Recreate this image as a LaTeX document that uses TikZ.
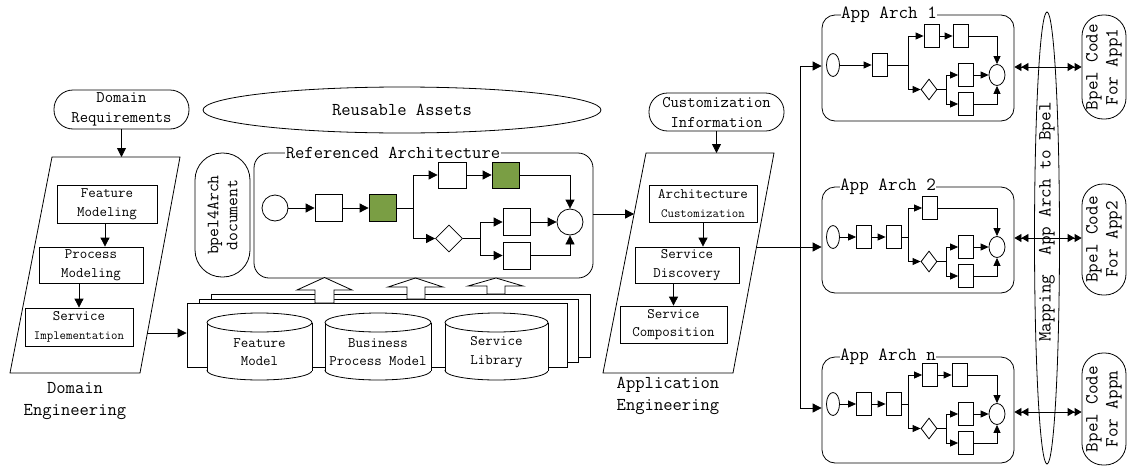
\documentclass[tikz,border=0pt]{standalone}
\usepackage{fontspec}
\usetikzlibrary{arrows.meta,shapes.geometric}
\definecolor{grn}{RGB}{122,158,68}
\newcommand\fsBig{\ttfamily\fontsize{18.1}{22}\selectfont}
\newcommand\fsTitle{\ttfamily\fontsize{18.6}{20}\selectfont}
\newcommand\fsPill{\ttfamily\fontsize{16.2}{20}\selectfont}
\newcommand\fsMid{\ttfamily\fontsize{14.5}{18.5}\selectfont}
\newcommand\fsSmall{\ttfamily\fontsize{12.5}{18.5}\selectfont}
\newcommand\fsDoc{\ttfamily\fontsize{17.2}{19}\selectfont}
\newcommand\mycyl[4]{%
  \draw[fill=white] (#1,#4) ellipse [x radius=#2pt, y radius=9.5pt];
  \fill[white] ({#1-#2},#3) rectangle ({#1+#2},#4);
  \draw ({#1-#2},#3) -- ({#1-#2},#4) ({#1+#2},#3) -- ({#1+#2},#4);
  \draw[fill=white] (#1,#3) ellipse [x radius=#2pt, y radius=9.5pt];}
\begin{document}
\begin{tikzpicture}[x=1pt,y=-1pt,line width=0.8pt,
  arr/.style={-{Triangle[length=9pt,width=9pt]}},
  sarr/.style={-{Triangle[length=8pt,width=7pt]}},
  dbl/.style={{Triangle[length=7pt,width=8pt]Triangle[length=7pt,width=8pt]}-{Triangle[length=7pt,width=8pt]Triangle[length=7pt,width=8pt]}},
  pill/.style={draw,fill=white,rectangle,inner sep=1pt,align=center},
  pbox/.style={draw,fill=white,rectangle,inner sep=0pt,align=center,font=\fsMid},
  sq/.style={draw,fill=white,rectangle,inner sep=0pt,minimum width=27pt,minimum height=27pt},
  gsq/.style={sq,fill=grn},
  rc/.style={draw,fill=white,circle,inner sep=0pt,minimum size=26pt},
  rdia/.style={draw,fill=white,diamond,inner sep=0pt,minimum width=27pt,minimum height=27pt},
  abox/.style={draw,rectangle,rounded corners=13pt,inner sep=0pt,minimum width=192pt,minimum height=106pt},
  ttl/.style={fill=white,inner sep=0.5pt,font=\fsTitle},
  sb/.style={draw,fill=white,rectangle,inner sep=0pt,minimum width=15pt,minimum height=23pt},
  st/.style={draw,fill=white,ellipse,inner sep=0pt,minimum width=13pt,minimum height=23pt},
  se/.style={draw,fill=white,ellipse,inner sep=0pt,minimum width=16pt,minimum height=21pt},
  sd/.style={draw,fill=white,diamond,inner sep=0pt,minimum width=16pt,minimum height=21pt},
  stk/.style={draw,fill=white,rectangle,inner sep=0pt,minimum width=379pt,minimum height=63pt},
  lbl/.style={font=\fsBig,align=center,inner sep=0pt},
  cyltext/.style={font=\fsMid,align=center,inner sep=0pt}
]
\fill[white] (0,0) rectangle (1127,466);
\useasboundingbox (0,0) rectangle (1127,466);

% ---------- Domain engineering ----------
\node[pill,rounded corners=19pt,minimum width=135pt,minimum height=39pt,font=\fsPill] (DR) at (121.5,109.5) {Domain\\Requirements};
\coordinate (dp1) at (52,157);
\coordinate (dp2) at (180,157);
\coordinate (dp3) at (140,373);
\coordinate (dp4) at (10,373);
\draw (dp1) -- (dp2) -- (dp3) -- (dp4) -- cycle;
\draw[arr] (DR) -- (DR |- dp1);
\node[pbox,minimum width=100pt,minimum height=38pt] (FM) at (107,204) {Feature\\Modeling};
\node[pbox,minimum width=104pt,minimum height=36pt] (PM) at (91,265) {Process\\Modeling};
\node[pbox,minimum width=108pt,minimum height=38pt] (SI) at (79,327) {Service\\{\fsSmall Implementation}};
\draw[arr] ([xshift=-2pt]FM.south) -- ([xshift=-2pt]FM.south |- PM.north);
\draw[arr] (PM.south -| SI.north) -- (SI.north);
\node[lbl] (DE) at (75,401) {Domain\\Engineering};

% ---------- Reusable assets ----------
\node[draw,ellipse,minimum width=398pt,minimum height=46pt,inner sep=0pt,font=\fsBig] (RAs) at (402,110) {Reusable Assets};
\node[pill,rounded corners=27pt,rotate=90,minimum width=124pt,minimum height=55pt,font=\fsDoc] (B4) at (222.5,215) {bpel4Arch\\document};

\node[draw,rectangle,rounded corners=15pt,minimum width=339pt,minimum height=125pt,inner sep=0pt] (RA) at (423.5,215.5) {};
\node[ttl,font=\fsBig] (RAT) at (393,153) {Referenced Architecture};
\node[rc] (r0) at (275,208) {};
\node[sq] (r1) at (328.5,208) {};
\node[gsq] (r2) at (382.5,208) {};
\coordinate (rj1) at (413,208);
\node[sq,minimum width=28pt,minimum height=26pt] (r3) at (452,175) {};
\node[gsq,minimum height=26pt] (r4) at (505.5,175) {};
\node[rdia] (rd) at (449,238.5) {};
\coordinate (rj2) at (480,238.5);
\node[sq] (r5) at (516.5,222) {};
\node[sq] (r6) at (516.5,255.5) {};
\node[rc] (re) at (570,222) {};
\draw[arr] (r0) -- (r1);
\draw[arr] (r1) -- (r2);
\draw (r2) -- (rj1);
\draw[arr] (rj1) |- (r3);
\draw[arr] (r3) -- (r4);
\draw[arr] (r4) -| (re);
\draw[arr] (rj1) |- (rd);
\draw (rd) -- (rj2);
\draw[arr] (rj2) |- (r5);
\draw[arr] (rj2) |- (r6);
\draw[arr] (r5) -- (re);
\draw[arr] (r6) -| (re);

% ---------- repository stack ----------
\node[stk] (K3) at (400.5,325.5) {};
\draw[fill=white] (487,294) -- (487,286) -- (468,286) -- (496,278) -- (523,286) -- (505,286) -- (505,294) -- cycle;
\node[stk] (K2) at (388.5,330.5) {};
\draw[fill=white] (407,299) -- (407,287) -- (388,287) -- (415.5,278) -- (443,287) -- (425,287) -- (425,299) -- cycle;
\node[stk,minimum width=380pt,minimum height=64pt] (K1) at (377,335) {};
\draw[fill=white] (315,303) -- (315,290) -- (297,290) -- (324.5,277.5) -- (352,290) -- (334,290) -- (334,303) -- cycle;
\mycyl{259.5}{52.5}{322.5}{370.5}
\mycyl{378}{53}{322.5}{370.5}
\mycyl{496.5}{51.5}{322.5}{370.5}
\node[cyltext] (CF) at (259.5,352) {Feature\\Model};
\node[cyltext] (CB) at (378,352) {Business\\Process Model};
\node[cyltext] (CS) at (496.5,352) {Service\\Library};
\coordinate (dpo) at (147.4,333);
\draw[arr] (dpo) -- (dpo -| K1.west);

% ---------- Application engineering ----------
\node[pill,rounded corners=18.5pt,minimum width=135pt,minimum height=38pt,font=\fsPill] (CI) at (716.5,112) {Customization\\Information};
\coordinate (ap1) at (646,153);
\coordinate (ap2) at (774,153);
\coordinate (ap3) at (733,373);
\coordinate (ap4) at (603,373);
\draw (ap1) -- (ap2) -- (ap3) -- (ap4) -- cycle;
\draw[arr] (CI) -- (CI |- ap1);
\node[pbox,minimum width=108pt,minimum height=37pt] (AC) at (703,203.5) {Architecture\\{\fsSmall Customization}};
\node[pbox,minimum width=104pt,minimum height=36pt] (SD) at (687,265) {Service\\Discovery};
\node[pbox,minimum width=107pt,minimum height=37pt] (SC) at (673.5,324.5) {Service\\Composition};
\draw[arr] (AC) -- (AC |- SD.north);
\draw[arr] (SD.south -| SC.north) -- (SC.north);
\node[lbl] (AE) at (668,396) {Application\\Engineering};
\coordinate (api) at (634.1,214);
\draw[arr] (api -| RA.east) -- (api);

% ---------- App Arch 1 ----------
\begin{scope}[shift={(822,15)}]
\node[abox] (A1) at (96,53) {};
\node[ttl] (T1) at (67,0) {App Arch 1};
\node[st] (s1) at (11,50) {};
\node[sb] (a1) at (57.5,50) {};
\coordinate (j11) at (86,50);
\node[sb] (u11) at (109.5,21) {};
\node[sb] (u12) at (138.5,21) {};
\node[se] (e1) at (175,60) {};
\node[sd] (d1) at (107,74.5) {};
\coordinate (j12) at (124,74.5);
\node[sb] (l11) at (144,60) {};
\node[sb] (l12) at (144,89) {};
\end{scope}
\draw[sarr] (s1) -- (a1);
\draw (a1) -- (j11);
\draw[sarr] (j11) |- (u11);
\draw[sarr] (u11) -- (u12);
\draw[sarr] (u12) -| (e1);
\draw[sarr] (j11) |- (d1);
\draw (d1) -- (j12);
\draw[sarr] (j12) |- (l11);
\draw[sarr] (j12) |- (l12);
\draw[sarr] (l11) -- (e1);
\draw[sarr] (l12) -| (e1);

% ---------- App Arch 2 ----------
\begin{scope}[shift={(822,187)}]
\node[abox] (A2) at (96,53) {};
\node[ttl] (T2) at (66,0) {App Arch 2};
\node[st] (s2) at (11,50) {};
\node[sb] (a21) at (42,50) {};
\node[sb] (a22) at (71.5,50) {};
\coordinate (j21) at (86,50);
\node[sb] (u21) at (108,21) {};
\node[se] (e2) at (175,60) {};
\node[sd] (d2) at (107,74.5) {};
\coordinate (j22) at (124,74.5);
\node[sb] (l21) at (144,60) {};
\node[sb] (l22) at (144,89) {};
\end{scope}
\draw[sarr] (s2) -- (a21);
\draw[sarr] (a21) -- (a22);
\draw (a22) -- (j21);
\draw[sarr] (j21) |- (u21);
\draw[sarr] (u21) -| (e2);
\draw[sarr] (j21) |- (d2);
\draw (d2) -- (j22);
\draw[sarr] (j22) |- (l21);
\draw[sarr] (j22) |- (l22);
\draw[sarr] (l21) -- (e2);
\draw[sarr] (l22) -| (e2);

% ---------- App Arch n ----------
\begin{scope}[shift={(822,354)}]
\node[abox] (A3) at (96,56) {};
\node[ttl] (T3) at (66,3) {App Arch n};
\node[st] (s3) at (11,50) {};
\node[sb] (a31) at (42,50) {};
\node[sb] (a32) at (71.5,50) {};
\coordinate (j31) at (86,50);
\node[sb] (u31) at (108,21) {};
\node[sb] (u32) at (137.5,21) {};
\node[se] (e3) at (175,60) {};
\node[sd] (d3) at (107,74.5) {};
\coordinate (j32) at (124,74.5);
\node[sb] (l31) at (144,60) {};
\node[sb] (l32) at (144,89) {};
\end{scope}
\draw[sarr] (s3) -- (a31);
\draw[sarr] (a31) -- (a32);
\draw (a32) -- (j31);
\draw[sarr] (j31) |- (u31);
\draw[sarr] (u31) -- (u32);
\draw[sarr] (u32) -| (e3);
\draw[sarr] (j31) |- (d3);
\draw (d3) -- (j32);
\draw[sarr] (j32) |- (l31);
\draw[sarr] (j32) |- (l32);
\draw[sarr] (l31) -- (e3);
\draw[sarr] (l32) -| (e3);

% ---------- fan out ----------
\coordinate (apo) at (756.5,247);
\coordinate (vt) at (800,66);
\coordinate (vb) at (800,408);
\draw (vt) -- (vb);
\draw[arr] (vt) -- (vt -| A1.west);
\draw[arr] (vb) -- (vb -| A3.west);
\draw[arr] (apo) -- (apo -| A2.west);

% ---------- Mapping ----------
\node[draw,ellipse,minimum width=25pt,minimum height=452pt,inner sep=0pt] (MP) at (1047,238) {};
\node[rotate=90,font=\fsTitle,inner sep=0pt] (MT) at (1047,222) {Mapping\ \ App Arch to Bpel};
\node[pill,rotate=90,rounded corners=21pt,minimum width=104pt,minimum height=44pt,font=\fsTitle,inner sep=0pt] (P1) at (1104,67) {Bpel Code\\For App1};
\node[pill,rotate=90,rounded corners=21pt,minimum width=111pt,minimum height=44pt,font=\fsTitle,inner sep=0pt] (P2) at (1104,239.5) {Bpel Code\\For App2};
\node[pill,rotate=90,rounded corners=21pt,minimum width=112pt,minimum height=44pt,font=\fsTitle,inner sep=0pt] (P3) at (1104,409) {Bpel Code\\For Appn};
\coordinate (m1) at (1047,67);
\coordinate (m2) at (1047,238);
\coordinate (m3) at (1047,412);
\draw[dbl] (m1 -| A1.east) -- (m1 -| P1.north);
\draw[dbl] (m2 -| A2.east) -- (m2 -| P2.north);
\draw[dbl] (m3 -| A3.east) -- (m3 -| P3.north);
\end{tikzpicture}
\end{document}
